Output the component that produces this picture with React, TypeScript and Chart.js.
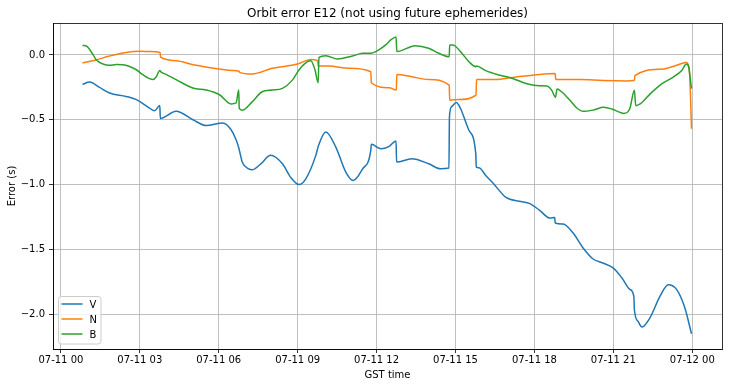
import React, { useEffect, useRef } from "react";
import { Chart, registerables } from "chart.js";

Chart.register(...registerables);

const TITLE = "Orbit error E12 (not using future ephemerides)";
const X_LABEL = "GST time";
const Y_LABEL = "Error (s)";
const SERIES_NAMES = ["V", "N", "B"];
const SERIES_COLORS = ["#1f77b4", "#ff7f0e", "#2ca02c"];

const X_TICK_HOURS = [0, 3, 6, 9, 12, 15, 18, 21, 24];
const X_TICK_LABELS = [
  "07-11 00", "07-11 03", "07-11 06", "07-11 09", "07-11 12",
  "07-11 15", "07-11 18", "07-11 21", "07-12 00",
];
const Y_TICKS = [-2, -1.5, -1, -0.5, 0];
const Y_TICK_LABELS = ["\u22122.0", "\u22121.5", "\u22121.0", "\u22120.5", "0.0"];

// hours since 07-11 00:00 GST
const vHours = [
  0.82, 1.09, 1.47, 1.85, 2.48, 2.87, 3.37, 3.56, 3.76, 3.78,
  4.38, 5.02, 5.52, 6.15, 6.47, 6.66, 6.76, 6.90, 7.14, 7.27,
  7.60, 7.97, 8.42, 8.73, 9.05, 9.31, 9.69, 9.79, 10.07, 10.45,
  10.83, 11.11, 11.47, 11.78, 11.80, 12.17, 12.48, 12.74, 12.76, 13.34,
  13.98, 14.43, 14.75, 14.77, 14.85, 15.03, 15.19, 15.51, 15.77, 15.79,
  15.89, 16.15, 16.43, 16.92, 17.42, 17.83, 18.20, 18.59, 18.77, 18.79,
  19.09, 19.47, 19.85, 20.23, 20.60, 21.00, 21.32, 21.63, 21.78, 21.80,
  21.94, 22.09, 22.39, 22.77, 23.09, 23.41, 23.72, 23.97,
];
const vError = [
  -0.227, -0.209, -0.25, -0.294, -0.32, -0.345, -0.41, -0.43, -0.39, -0.49,
  -0.435, -0.50, -0.545, -0.525, -0.577, -0.654, -0.716, -0.83, -0.879, -0.886,
  -0.84, -0.775, -0.84, -0.943, -1.0, -0.956, -0.775, -0.70, -0.594, -0.711,
  -0.904, -0.969, -0.879, -0.736, -0.69, -0.724, -0.705, -0.664, -0.827, -0.801,
  -0.84, -0.879, -0.873, -0.478, -0.40, -0.367, -0.413, -0.581, -0.762, -0.866,
  -0.871, -0.93, -0.99, -1.10, -1.13, -1.148, -1.20, -1.259, -1.254, -1.297,
  -1.305, -1.375, -1.49, -1.575, -1.606, -1.645, -1.72, -1.81, -1.865, -1.967,
  -2.057, -2.10, -2.03, -1.864, -1.774, -1.812, -1.954, -2.152,
];

const nHours = [
  0.82, 1.30, 1.85, 2.48, 3.00, 3.40, 3.77, 3.79, 4.38, 5.02,
  5.39, 6.03, 6.50, 6.77, 6.79, 7.27, 8.03, 9.00, 9.50, 9.76,
  9.78, 10.19, 10.96, 11.78, 11.80, 12.48, 12.75, 12.77, 13.34, 13.98,
  14.76, 14.78, 15.13, 15.78, 15.80, 16.53, 17.17, 18.00, 18.79, 18.81,
  19.74, 20.60, 21.52, 21.80, 21.82, 22.80, 23.70, 23.76, 23.88, 23.93,
  23.97,
];
const nError = [
  -0.062, -0.04, -0.008, 0.02, 0.028, 0.026, 0.02, -0.017, -0.044, -0.075,
  -0.088, -0.108, -0.12, -0.126, -0.134, -0.147, -0.103, -0.07, -0.034, -0.044,
  -0.085, -0.085, -0.103, -0.129, -0.214, -0.253, -0.271, -0.15, -0.168, -0.189,
  -0.233, -0.349, -0.344, -0.31, -0.189, -0.189, -0.173, -0.155, -0.143, -0.19,
  -0.19, -0.197, -0.20, -0.195, -0.16, -0.11, -0.06, -0.057, -0.10, -0.30,
  -0.57,
];

const bHours = [
  0.82, 0.99, 1.20, 1.34, 1.60, 1.85, 2.10, 2.36, 2.87, 3.11,
  3.50, 3.62, 3.76, 3.80, 4.00, 4.38, 5.02, 5.52, 6.03, 6.47,
  6.66, 6.76, 6.78, 6.89, 7.27, 7.65, 8.03, 8.42, 8.80, 9.05,
  9.37, 9.50, 9.66, 9.78, 9.81, 10.07, 10.51, 11.08, 11.47, 11.78,
  11.97, 12.36, 12.55, 12.74, 12.77, 13.47, 13.98, 14.36, 14.76, 14.78,
  14.90, 15.19, 15.51, 15.77, 15.80, 16.15, 16.66, 17.17, 17.68, 18.19,
  18.47, 18.66, 18.80, 18.86, 19.04, 19.36, 19.61, 19.87, 20.25, 20.63,
  20.94, 21.26, 21.39, 21.62, 21.80, 21.85, 22.02, 22.40, 22.85, 23.29,
  23.61, 23.77, 23.86, 23.97,
];
const bError = [
  0.074, 0.066, 0.01, -0.036, -0.07, -0.08, -0.074, -0.075, -0.114, -0.152,
  -0.19, -0.17, -0.12, -0.13, -0.15, -0.19, -0.255, -0.27, -0.307, -0.378,
  -0.37, -0.271, -0.413, -0.426, -0.362, -0.284, -0.271, -0.258, -0.194, -0.116,
  -0.052, -0.044, -0.116, -0.214, -0.018, -0.005, -0.031, -0.008, 0.013, 0.013,
  0.026, 0.08, 0.118, 0.138, 0.026, 0.072, 0.052, 0.013, -0.013, 0.078,
  0.078, 0.026, -0.052, -0.09, -0.085, -0.121, -0.155, -0.181, -0.22, -0.238,
  -0.240, -0.273, -0.326, -0.263, -0.286, -0.352, -0.409, -0.435, -0.424, -0.404,
  -0.417, -0.443, -0.451, -0.417, -0.273, -0.391, -0.378, -0.30, -0.221, -0.169,
  -0.117, -0.070, -0.091, -0.26,
];

const X_MIN = -0.30;
const X_MAX = 25.13;
const Y_MIN = -2.27;
const Y_MAX = 0.247;

const FONT = "'DejaVu Sans', sans-serif";

function toPoints(xs: number[], ys: number[]) {
  return xs.map((x, i) => ({ x, y: ys[i] }));
}

const overlayPlugin = {
  id: "mplOverlay",
  afterDraw(chart: any) {
    const { ctx, chartArea: a } = chart;
    ctx.save();
    ctx.strokeStyle = "#000";
    ctx.lineWidth = 0.8;
    const l = Math.round(a.left) + 0.5;
    const t = Math.round(a.top) + 0.5;
    const r = Math.round(a.right) + 0.5;
    const b = Math.round(a.bottom) + 0.5;
    ctx.strokeRect(l, t, r - l, b - t);

    const cx = (a.left + a.right) / 2;
    ctx.fillStyle = "#000";
    ctx.textAlign = "center";
    ctx.textBaseline = "alphabetic";
    ctx.font = `12px ${FONT}`;
    ctx.fillText(TITLE, cx, 17);
    ctx.font = `10px ${FONT}`;
    ctx.fillText(X_LABEL, cx, 377.5);
    ctx.save();
    ctx.translate(15, (a.top + a.bottom) / 2);
    ctx.rotate(-Math.PI / 2);
    ctx.fillText(Y_LABEL, 0, 0);
    ctx.restore();

    // legend (lower left, inside axes)
    const bx = a.left + 5.5;
    const by = a.bottom - 52.5;
    const bw = 42.5;
    const bh = 47.5;
    const rad = 3;
    ctx.beginPath();
    ctx.moveTo(bx + rad, by);
    ctx.lineTo(bx + bw - rad, by);
    ctx.quadraticCurveTo(bx + bw, by, bx + bw, by + rad);
    ctx.lineTo(bx + bw, by + bh - rad);
    ctx.quadraticCurveTo(bx + bw, by + bh, bx + bw - rad, by + bh);
    ctx.lineTo(bx + rad, by + bh);
    ctx.quadraticCurveTo(bx, by + bh, bx, by + bh - rad);
    ctx.lineTo(bx, by + rad);
    ctx.quadraticCurveTo(bx, by, bx + rad, by);
    ctx.closePath();
    ctx.fillStyle = "rgba(255,255,255,0.8)";
    ctx.fill();
    ctx.strokeStyle = "#cccccc";
    ctx.lineWidth = 1;
    ctx.stroke();

    ctx.textAlign = "left";
    SERIES_NAMES.forEach((name, i) => {
      const y = by + 7.5 + i * 15;
      ctx.strokeStyle = SERIES_COLORS[i];
      ctx.lineWidth = 1.5;
      ctx.beginPath();
      ctx.moveTo(bx + 3, y);
      ctx.lineTo(bx + 24, y);
      ctx.stroke();
      ctx.fillStyle = "#000";
      ctx.fillText(name, bx + 31, y + 3.6);
    });
    ctx.restore();
  },
};

export default function App() {
  const canvasRef = useRef<HTMLCanvasElement | null>(null);

  useEffect(() => {
    const canvas = canvasRef.current;
    if (!canvas) return;
    const series = [
      { h: vHours, e: vError },
      { h: nHours, e: nError },
      { h: bHours, e: bError },
    ];
    const chart = new Chart(canvas, {
      type: "line",
      data: {
        datasets: series.map((s, i) => ({
          label: SERIES_NAMES[i],
          data: toPoints(s.h, s.e),
          borderColor: SERIES_COLORS[i],
          backgroundColor: SERIES_COLORS[i],
          borderWidth: 1.5,
          pointRadius: 0,
          fill: false,
          cubicInterpolationMode: "monotone" as const,
          order: 3 - i,
        })),
      },
      options: {
        animation: false,
        responsive: false,
        layout: { padding: { top: 23, right: 7, left: 0, bottom: 0 } },
        plugins: {
          legend: { display: false },
          title: { display: false },
          tooltip: { enabled: false },
        },
        scales: {
          x: {
            type: "linear",
            min: X_MIN,
            max: X_MAX,
            afterBuildTicks: (scale: any) => {
              scale.ticks = X_TICK_HOURS.map((v) => ({ value: v }));
            },
            afterFit: (scale: any) => {
              scale.height = 38;
            },
            ticks: {
              autoSkip: false,
              maxRotation: 0,
              minRotation: 0,
              padding: 1,
              color: "#000",
              font: { family: FONT, size: 10 },
              callback: (value: any) => {
                const idx = X_TICK_HOURS.indexOf(Number(value));
                return idx >= 0 ? X_TICK_LABELS[idx] : "";
              },
            },
            grid: {
              color: "#b0b0b0",
              lineWidth: 0.8,
              tickColor: "#000",
              tickLength: 4,
              tickWidth: 0.8,
            },
            border: { display: true, color: "#000", width: 0.8 },
          },
          y: {
            type: "linear",
            min: Y_MIN,
            max: Y_MAX,
            afterBuildTicks: (scale: any) => {
              scale.ticks = Y_TICKS.map((v) => ({ value: v }));
            },
            afterFit: (scale: any) => {
              scale.width = 53;
            },
            ticks: {
              padding: 4,
              color: "#000",
              font: { family: FONT, size: 10 },
              callback: (value: any) => {
                const idx = Y_TICKS.indexOf(Number(value));
                return idx >= 0 ? Y_TICK_LABELS[idx] : "";
              },
            },
            grid: {
              color: "#b0b0b0",
              lineWidth: 0.8,
              tickColor: "#000",
              tickLength: 4,
              tickWidth: 0.8,
            },
            border: { display: true, color: "#000", width: 0.8 },
          },
        },
      },
      plugins: [overlayPlugin],
    });
    return () => chart.destroy();
  }, []);

  return (
    <div style={{ position: "absolute", left: 0, top: 0, width: 729, height: 387, background: "#fff" }}>
      <canvas ref={canvasRef} width={729} height={387} style={{ display: "block" }} />
    </div>
  );
}
